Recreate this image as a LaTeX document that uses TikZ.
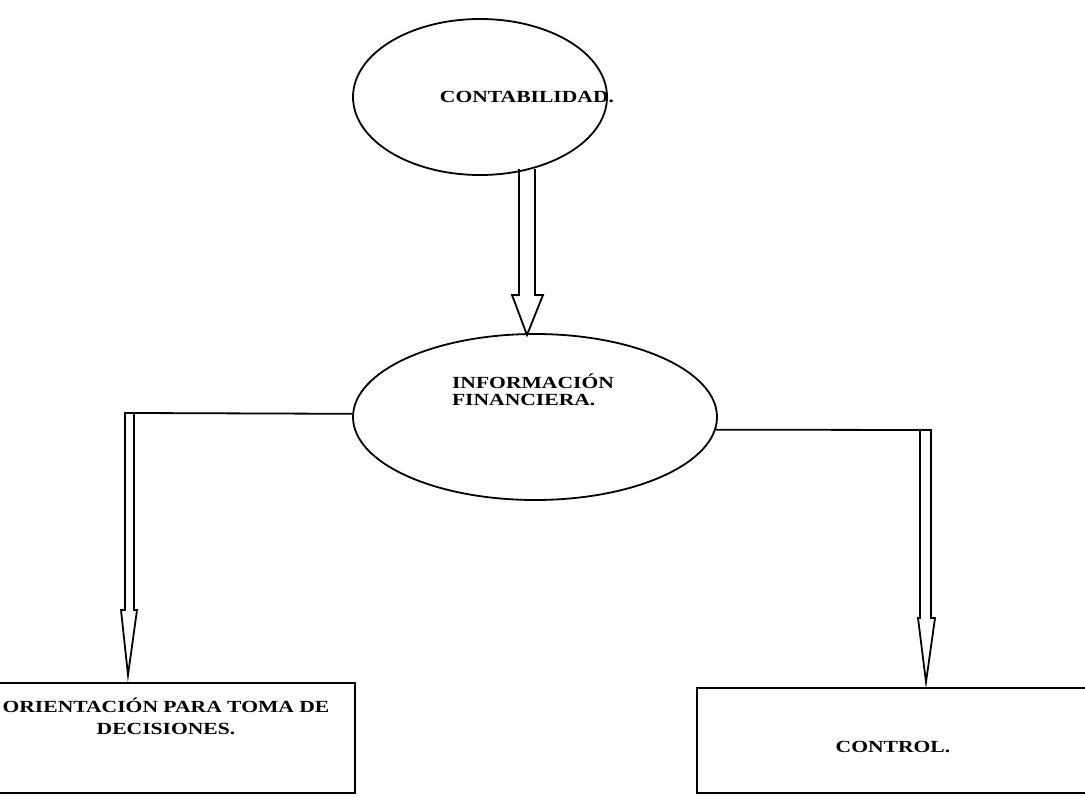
\documentclass[tikz,border=0pt]{standalone}
\usepackage{fontspec}
\setmainfont{Liberation Serif}[FakeStretch=1.27]
\usetikzlibrary{shapes}

\begin{document}
\begin{tikzpicture}[x=0.5pt,y=-0.5pt,line width=0.9pt,
  txt/.style={font=\fontsize{8.5}{8.4}\selectfont\bfseries},
  oval/.style={ellipse,draw,inner sep=0pt},
  caja/.style={rectangle,draw,inner sep=0pt}]
\useasboundingbox (0,0) rectangle (1085,797);
\node [oval,minimum width=127pt,minimum height=78pt] (conta) at (480,97) {};
\node [oval,minimum width=182pt,minimum height=83pt] (info) at (535,417) {};
\node [caja,minimum width=200pt,minimum height=55pt] (orient) at (155,738) {};
\node [caja,minimum width=210pt,minimum height=52.5pt] (control) at (907,740.5) {};
\node [txt] (tconta) at (527,97) {CONTABILIDAD.};
\node [txt,align=left] (tinfo) at (533,390) {INFORMACIÓN\\FINANCIERA.};
\node [txt,align=center] (torient) at (166,716) {ORIENTACIÓN PARA TOMA DE\\[2.5pt]DECISIONES.};
\node [txt] (tcontrol) at (893,747) {CONTROL.};
% flecha gruesa
\coordinate (fa) at (519,169);
\draw (fa) -- ++(0,126) -- ++(-7,0) -- ++(15,40) -- ++(16,-40) -- ++(-8,0) -- ++(0,-126);
% ramas
\coordinate (lr) at (134,413);
\coordinate (rl) at (920,430);
\draw (info.179) -- (lr);
\draw (lr) -- ++(0,197) -- ++(3,0) -- ++(-9,65) -- ++(-7,-65) -- ++(4,0) -- ++(0,-197) -- cycle;
\draw (info.-4) -- (rl);
\draw (rl) -- ++(0,188) -- ++(-2,0) -- ++(8,64) -- ++(9,-64) -- ++(-4,0) -- ++(0,-188) -- cycle;
\end{tikzpicture}
\end{document}
